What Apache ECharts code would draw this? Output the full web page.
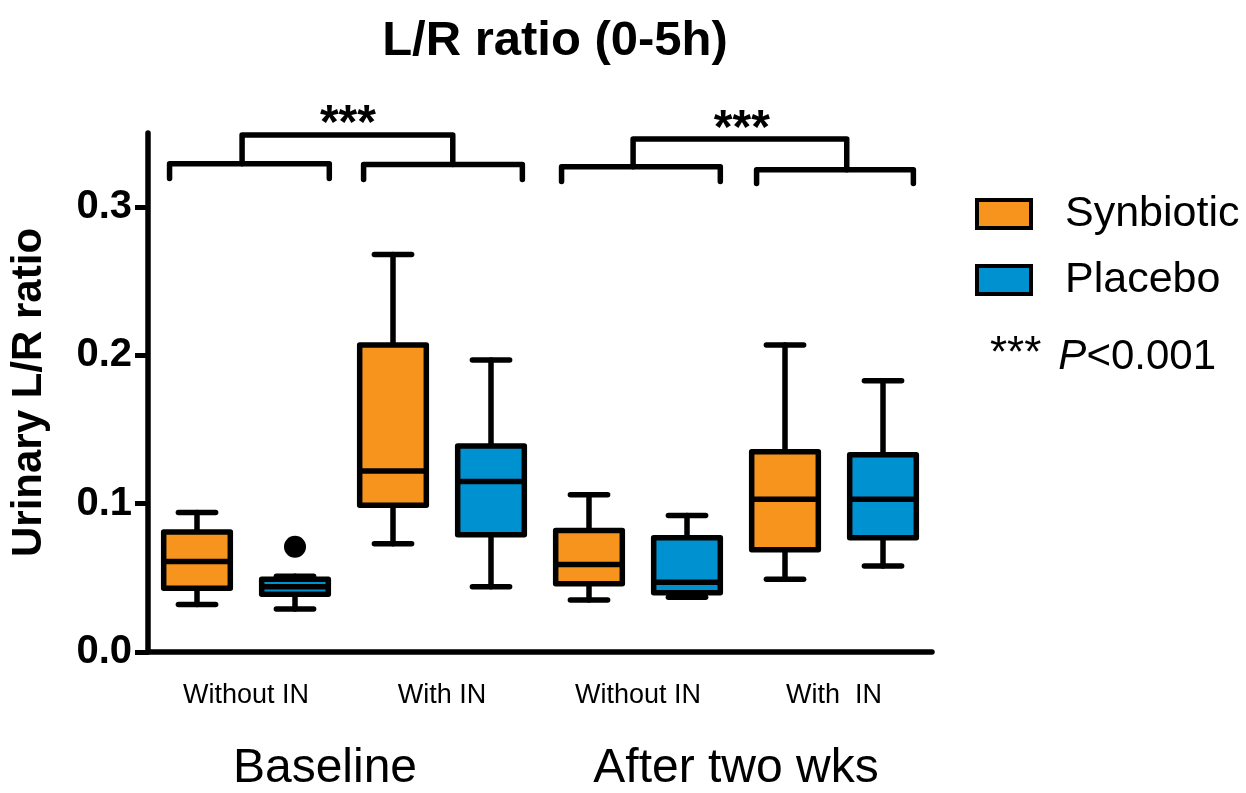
<!DOCTYPE html>
<html>
<head>
<meta charset="utf-8">
<script src="https://cdn.jsdelivr.net/npm/echarts@6/dist/echarts.min.js"></script>
<style>
html,body{margin:0;padding:0;background:#fff;}
#chart{width:1246px;height:793px;}
</style>
</head>
<body>
<div id="chart"></div>
<script>
// ---- data ----
const boxCategories = ['Baseline|Without IN|Synbiotic','Baseline|Without IN|Placebo','Baseline|With IN|Synbiotic','Baseline|With IN|Placebo','After|Without IN|Synbiotic','After|Without IN|Placebo','After|With IN|Synbiotic','After|With IN|Placebo'];
const subLabels = ['Without IN','With IN','Without IN','With  IN'];
const groupLabels = ['Baseline','After two wks'];
const seriesNames = ['Synbiotic','Placebo'];
// [category index, lower whisker, Q1, median, Q3, upper whisker]
const synbioticBoxes = [
  [0, 0.032, 0.043, 0.061, 0.081, 0.094],
  [2, 0.073, 0.099, 0.122, 0.207, 0.268],
  [4, 0.035, 0.046, 0.059, 0.082, 0.106],
  [6, 0.049, 0.069, 0.103, 0.135, 0.207]
];
const placeboBoxes = [
  [1, 0.029, 0.039, 0.044, 0.049, 0.051],
  [3, 0.044, 0.079, 0.115, 0.139, 0.197],
  [5, 0.037, 0.040, 0.047, 0.077, 0.092],
  [7, 0.058, 0.077, 0.103, 0.133, 0.183]
];
const outliers = [[1, 0.071]];
const yTicks = [0, 0.1, 0.2, 0.3];
// significance brackets: [xLeft, xRight, yBar, yTip]
const lowBrackets = [
  [-0.28, 1.35, 0.3293, 0.3193],
  [1.70, 3.32, 0.3287, 0.3187],
  [3.72, 5.34, 0.3273, 0.3173],
  [5.71, 7.31, 0.3253, 0.3160]
];
// [xLeft, xRight, yBar, yLeftEnd, yRightEnd]
const highBrackets = [
  [0.46, 2.61, 0.3487, 0.3293, 0.3287],
  [4.45, 6.63, 0.3460, 0.3273, 0.3253]
];
const stars = [[1.54, 0.3553, '***'], [5.56, 0.3520, '***']];
const pNote = ['***', 'P', '<0.001'];

// ---- styles ----
const ORANGE = '#F7941E';
const BLUE = '#0092D0';
const LW = 5.5;
const FONT = 'Liberation Sans, Arial, Helvetica, sans-serif';

function boxRender(color) {
  return function (params, api) {
    const x = api.value(0);
    const pLow = api.coord([x, api.value(1)]);
    const pQ1 = api.coord([x, api.value(2)]);
    const pMed = api.coord([x, api.value(3)]);
    const pQ3 = api.coord([x, api.value(4)]);
    const pUp = api.coord([x, api.value(5)]);
    const band = api.size([1, 0])[0];
    const bw = band * 0.68;
    const cw = band * 0.38;
    const cx = pMed[0];
    const st = {stroke: '#000', lineWidth: LW, lineCap: 'round'};
    return {
      type: 'group',
      children: [
        {type: 'line', shape: {x1: cx, y1: pUp[1], x2: cx, y2: pQ3[1]}, style: st},
        {type: 'line', shape: {x1: cx, y1: pQ1[1], x2: cx, y2: pLow[1]}, style: st},
        {type: 'line', shape: {x1: cx - cw / 2, y1: pUp[1], x2: cx + cw / 2, y2: pUp[1]}, style: st},
        {type: 'line', shape: {x1: cx - cw / 2, y1: pLow[1], x2: cx + cw / 2, y2: pLow[1]}, style: st},
        {type: 'rect', shape: {x: cx - bw / 2, y: pQ3[1], width: bw, height: pQ1[1] - pQ3[1]},
          style: {fill: color, stroke: '#000', lineWidth: LW, lineJoin: 'round'}},
        {type: 'line', shape: {x1: cx - bw / 2, y1: pMed[1], x2: cx + bw / 2, y2: pMed[1]}, style: {stroke: '#000', lineWidth: LW}}
      ]
    };
  };
}

function lowBracketRender(params, api) {
  const a = api.coord([api.value(0), api.value(2)]);
  const b = api.coord([api.value(1), api.value(2)]);
  const ta = api.coord([api.value(0), api.value(3)]);
  const tb = api.coord([api.value(1), api.value(3)]);
  return {type: 'polyline', shape: {points: [ta, a, b, tb]},
    style: {fill: null, stroke: '#000', lineWidth: LW, lineCap: 'round', lineJoin: 'round'}};
}
function highBracketRender(params, api) {
  const a = api.coord([api.value(0), api.value(2)]);
  const b = api.coord([api.value(1), api.value(2)]);
  const ta = api.coord([api.value(0), api.value(3)]);
  const tb = api.coord([api.value(1), api.value(4)]);
  return {type: 'polyline', shape: {points: [ta, a, b, tb]},
    style: {fill: null, stroke: '#000', lineWidth: LW, lineCap: 'round', lineJoin: 'round'}};
}
function starRender(params, api) {
  const p = api.coord([api.value(0), api.value(1)]);
  return {type: 'text', x: p[0], y: p[1],
    style: {text: stars[params.dataIndex][2], fill: '#000', font: 'bold 48px ' + FONT, align: 'center', verticalAlign: 'middle'}};
}

const chart = echarts.init(document.getElementById('chart'), null, {renderer: 'canvas'});
const option = {
  backgroundColor: '#fff',
  animation: false,
  title: {
    text: 'L/R ratio (0-5h)',
    left: 550, top: 12, textAlign: 'center',
    textStyle: {fontFamily: FONT, fontSize: 49, fontWeight: 'bold', color: '#000'}
  },
  legend: {
    orient: 'vertical', left: 970, top: 186,
    itemWidth: 54, itemHeight: 28, itemGap: 20, icon: 'rect',
    textStyle: {fontFamily: FONT, fontSize: 43, color: '#000', padding: [0, 0, 0, 29], lineHeight: 46},
    data: [
      {name: seriesNames[0], itemStyle: {color: ORANGE, borderColor: '#000', borderWidth: 4}},
      {name: seriesNames[1], itemStyle: {color: BLUE, borderColor: '#000', borderWidth: 4}}
    ]
  },
  graphic: [{
    type: 'text', left: 990, top: 333,
    style: {
      text: '{a|' + pNote[0] + '}{s| }{p|' + pNote[1] + '}{b|' + pNote[2] + '}',
      rich: {
        a: {fontFamily: FONT, fontSize: 44, fill: '#000', verticalAlign: 'top', lineHeight: 48},
        s: {fontFamily: FONT, fontSize: 40, fill: '#000', width: 17, lineHeight: 48},
        p: {fontFamily: FONT, fontSize: 42, fontStyle: 'italic', fill: '#000', lineHeight: 48},
        b: {fontFamily: FONT, fontSize: 42, fill: '#000', lineHeight: 48}
      }
    }
  }],
  grid: {left: 148, right: 314, top: 133, bottom: 133, containLabel: false},
  xAxis: [
    {
      type: 'category', data: boxCategories, position: 'bottom',
      axisLine: {onZero: false, lineStyle: {color: '#000', width: 5.5}},
      axisTick: {alignWithLabel: true, length: 15, lineStyle: {color: '#000', width: 5}},
      axisLabel: {show: false}, splitLine: {show: false}
    },
    {
      type: 'category', data: subLabels, position: 'bottom', offset: 0,
      axisLine: {show: false}, axisTick: {show: false},
      axisLabel: {margin: 30, fontFamily: FONT, fontSize: 27, color: '#000'}
    },
    {
      type: 'category', position: 'bottom', offset: 0,
      data: [{value: groupLabels[0], textStyle: {padding: [0, 38, 0, 0]}}, groupLabels[1]],
      axisLine: {show: false}, axisTick: {show: false},
      axisLabel: {margin: 93, fontFamily: FONT, fontSize: 48, color: '#000'}
    },
    {type: 'value', min: -0.5, max: 7.5, show: false}
  ],
  yAxis: {
    type: 'value', min: 0, max: 0.35, interval: 0.1,
    name: 'Urinary L/R ratio', nameLocation: 'middle', nameGap: 98,
    nameTextStyle: {fontFamily: FONT, fontSize: 42, fontWeight: 'bold', color: '#000'},
    axisLine: {show: true, onZero: false, lineStyle: {color: '#000', width: 5.5}},
    axisTick: {show: true, length: 13, lineStyle: {color: '#000', width: 5}, customValues: yTicks},
    axisLabel: {margin: 16, fontFamily: FONT, fontSize: 40, fontWeight: 'bold', color: '#000',
      customValues: yTicks, formatter: v => v.toFixed(1)},
    splitLine: {show: false}
  },
  series: [
    {name: seriesNames[0], type: 'custom', xAxisIndex: 0, itemStyle: {color: ORANGE},
      renderItem: boxRender(ORANGE), encode: {x: 0, y: [1, 2, 3, 4, 5]}, data: synbioticBoxes, z: 3},
    {name: seriesNames[1], type: 'custom', xAxisIndex: 0, itemStyle: {color: BLUE},
      renderItem: boxRender(BLUE), encode: {x: 0, y: [1, 2, 3, 4, 5]}, data: placeboBoxes, z: 3},
    {name: 'outlier', type: 'scatter', xAxisIndex: 0, symbol: 'circle', symbolSize: 22,
      itemStyle: {color: '#000', opacity: 1}, data: outliers, z: 4},
    {name: 'brackets-low', type: 'custom', xAxisIndex: 3, renderItem: lowBracketRender,
      encode: {x: [0, 1], y: [2, 3]}, data: lowBrackets, clip: false},
    {name: 'brackets-high', type: 'custom', xAxisIndex: 3, renderItem: highBracketRender,
      encode: {x: [0, 1], y: [2, 3, 4]}, data: highBrackets, clip: false},
    {name: 'stars', type: 'custom', xAxisIndex: 3, renderItem: starRender,
      encode: {x: 0, y: 1}, data: stars.map(s => [s[0], s[1]]), clip: false}
  ]
};
chart.setOption(option);
</script>
</body>
</html>
